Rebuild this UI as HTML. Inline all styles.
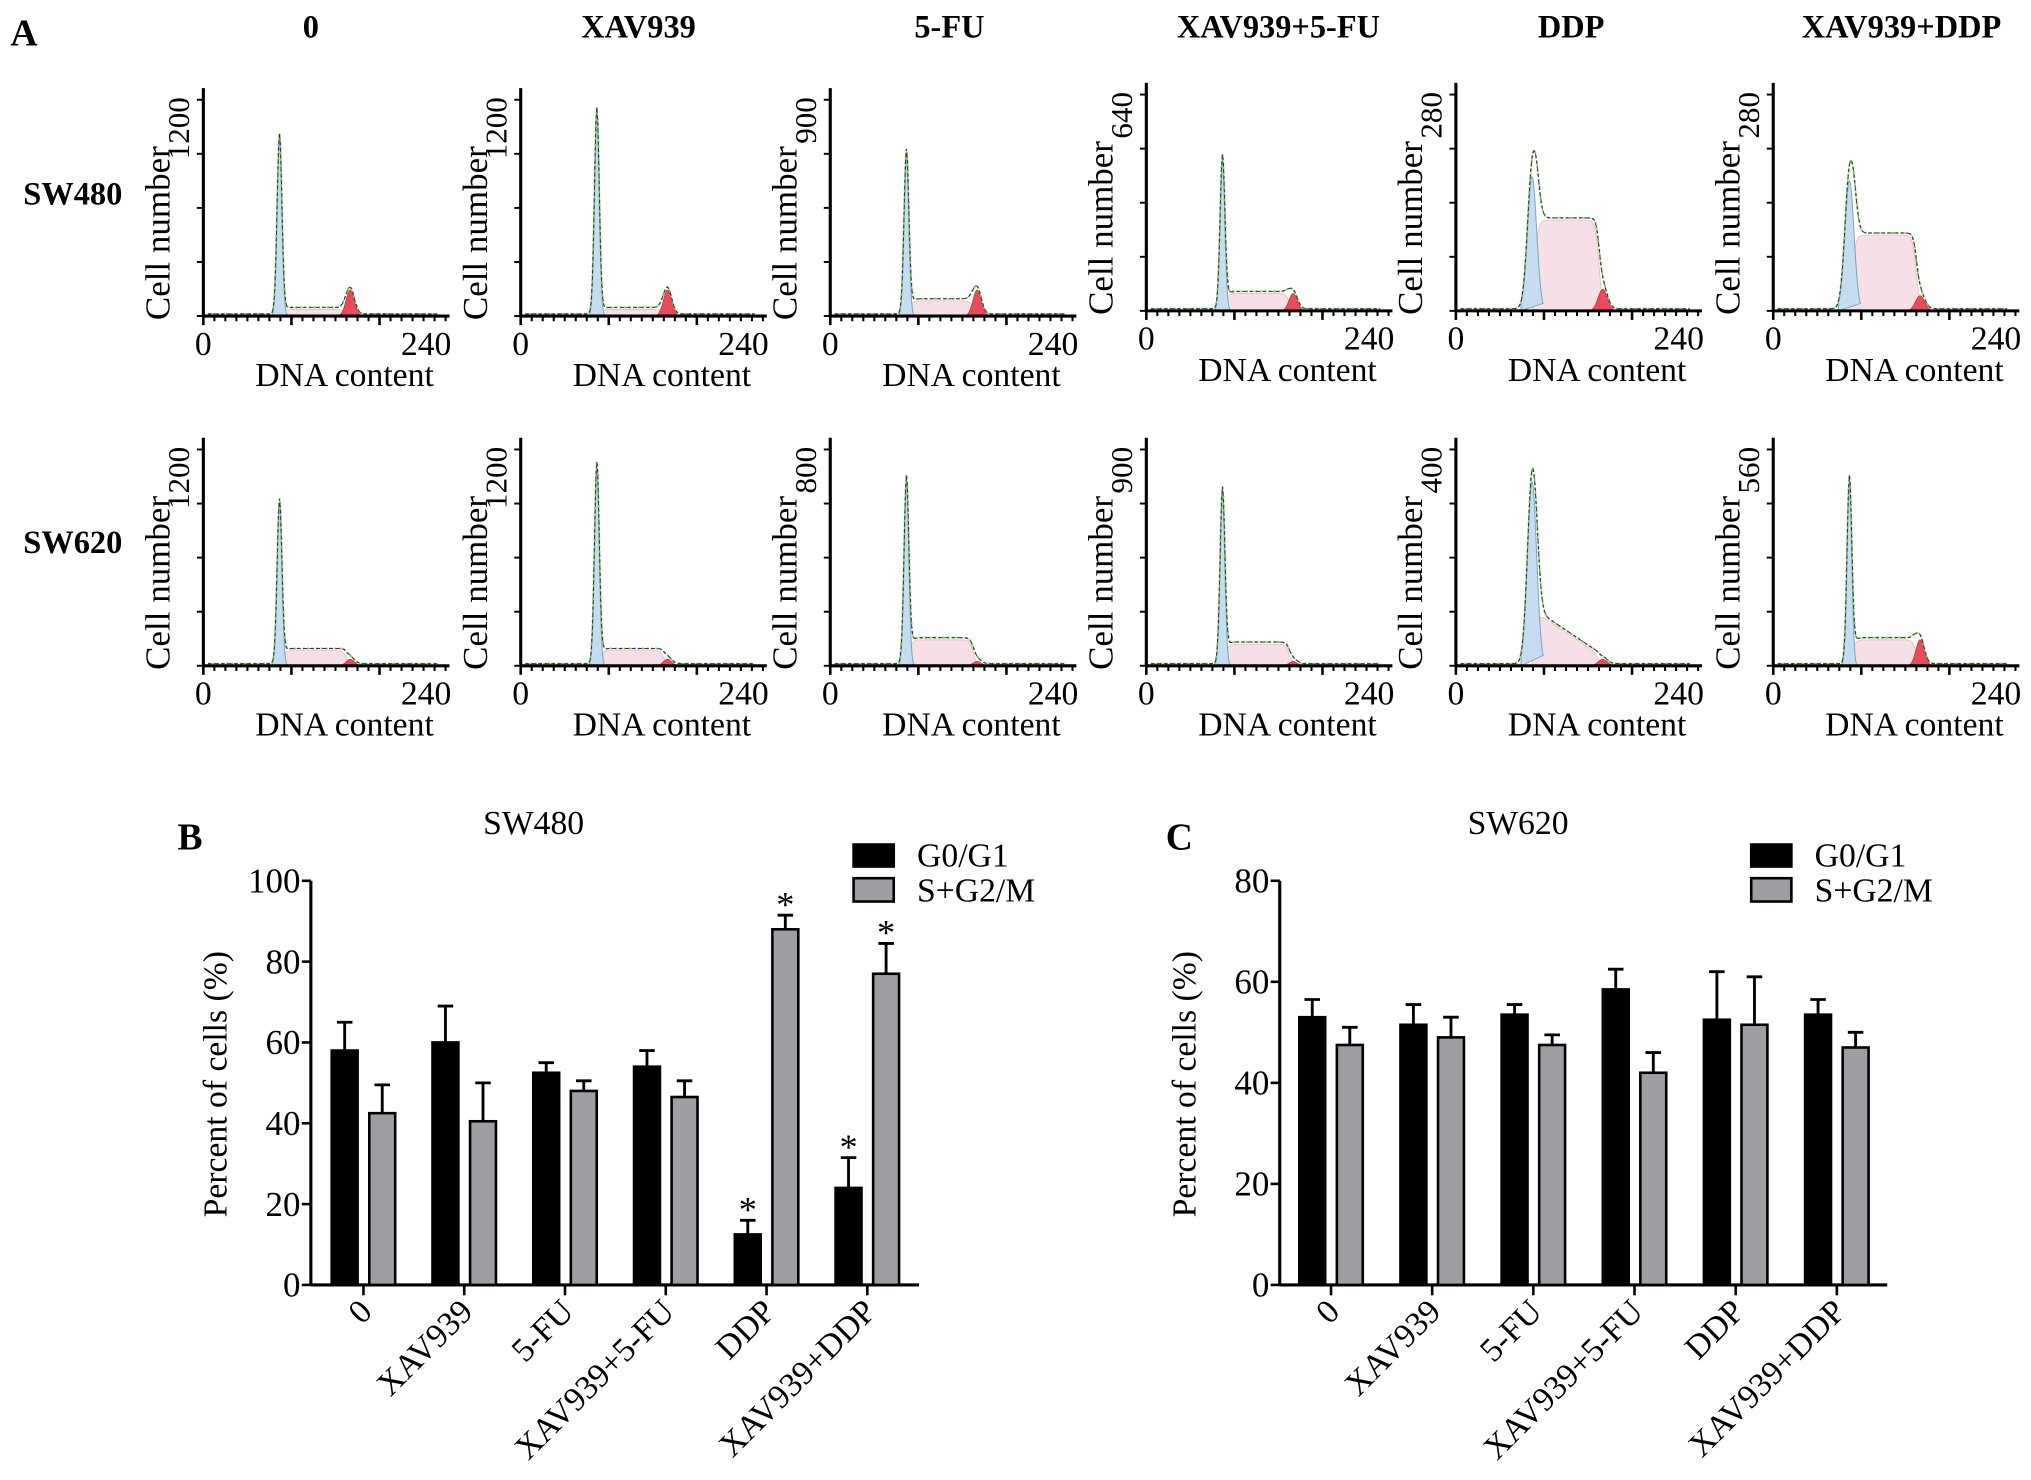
<!DOCTYPE html>
<html><head><meta charset="utf-8">
<style>
html,body{margin:0;padding:0;background:#fff;}
svg{display:block;font-family:"Liberation Serif",serif;}
</style></head>
<body>
<svg id="fig" width="2031" height="1480" viewBox="0 0 1568 1142.6" preserveAspectRatio="none" xmlns="http://www.w3.org/2000/svg">
<rect width="1568" height="1142.6" fill="#fff"/>
<text x="8" y="35" font-size="29" font-weight="bold">A</text>
<text x="18" y="158" font-size="25" font-weight="bold">SW480</text>
<text x="18" y="427" font-size="25" font-weight="bold">SW620</text>
<g id="hist"></g>
<g id="barB"></g>
<g id="barC"></g>
</svg>
<script>
const NS="http://www.w3.org/2000/svg";
function mk(parent,tag,attrs,text){const e=document.createElementNS(NS,tag);for(const k in attrs)e.setAttribute(k,attrs[k]);if(text!==undefined)e.textContent=text;parent.appendChild(e);return e;}

// ---------- Panel A data ----------
const treatments=["0","XAV939","5-FU","XAV939+5-FU","DDP","XAV939+DDP"];
const headerX=[240,493,733,987,1213,1468];
const axisLeft=[157,402,641,885,1124,1369];
const row1Max=[1200,1200,900,640,280,280];
const row2Max=[1200,1200,800,900,400,560];
const row1G1=[0.83,0.95,0.75,0.7,0.62,0.6];
const row1S=[0.03,0.03,0.07,0.08,0.42,0.35];
const row1G2=[0.12,0.12,0.12,0.08,0.1,0.07];
const row2G1=[0.75,0.92,0.85,0.8,0.85,0.85];
const row2S=[0.07,0.07,0.12,0.1,0.2,0.12];
const row2G2=[0.03,0.03,0.02,0.02,0.03,0.12];
const rowBase=[244,514];

const hist=document.getElementById('hist');
treatments.forEach((t,i)=>{
  const h=mk(hist,'text',{x:headerX[i],y:29,'font-size':25,'font-weight':'bold','text-anchor':'middle'},t);
  
  
});
function gauss(x,m,s){return Math.exp(-0.5*((x-m)/s)**2);}
function drawHist(r,c,maxv,g1,sl,g2){
  const g=mk(hist,'g',{});
  
  
  const x0=axisLeft[c], yb=rowBase[r]-(c>=3&&r===0?4:0), H=167;
  const sx=v=>x0+v*170/240, sy=f=>yb-f*H;
  const broad=sl>0.15;
  const s1=broad?5:2.6, s2=broad?5:4.5;
  const G1m=83,G2m=160;
  const sFun=x=>{const a=1/(1+Math.exp(-(x-G1m-3)/2)),b=1/(1+Math.exp((x-G2m+4)/2));return sl*a*b*(broad&&r===1?Math.max(0.2,1.3-(x-G1m)/70):1);};
  const pts=[];for(let x=5;x<=255;x+=1){const y=g1*gauss(x,G1m,s1)+sFun(x)+g2*gauss(x,G2m,s2)+0.01;pts.push([x,y]);}
  let d='M'+sx(G1m)+','+yb;for(let x=G1m;x<=G2m+8;x++)d+=' L'+sx(x)+','+sy(sFun(x));d+=' L'+sx(G2m+8)+','+yb+'Z';
  mk(g,'path',{d:d,fill:'#f7dfe7',stroke:'#e8b8c8','stroke-width':0.6});
  d='M'+sx(G1m-12)+','+yb;for(let x=G1m-12;x<=G1m+12;x+=0.5)d+=' L'+sx(x)+','+sy(g1*gauss(x,G1m,s1));d+='Z';
  mk(g,'path',{d:d,fill:'#c6dcf0',stroke:'#7aa6cc','stroke-width':0.8});
  d='M'+sx(G2m-14)+','+yb;for(let x=G2m-14;x<=G2m+14;x+=0.5)d+=' L'+sx(x)+','+sy(g2*gauss(x,G2m,s2));d+='Z';
  mk(g,'path',{d:d,fill:'#e84a5f',stroke:'#c33','stroke-width':0.6});
  d='';pts.forEach((p,k)=>{d+=(k?' L':'M')+sx(p[0])+','+sy(p[1]);});
  mk(g,'path',{d:d,fill:'none',stroke:'#7fc850','stroke-width':1.4,'stroke-dasharray':'2 1.5'});
  mk(g,'path',{d:d,fill:'none',stroke:'#334','stroke-width':0.8,'stroke-dasharray':'3 2'});
  mk(g,'line',{x1:x0,y1:yb-176,x2:x0,y2:yb,stroke:'#000','stroke-width':2.4});
  mk(g,'line',{x1:x0,y1:yb,x2:x0+190,y2:yb,stroke:'#000','stroke-width':2.4});
  for(let k=0;k<=4;k++)mk(g,'line',{x1:x0-5,y1:yb-k*H/4,x2:x0,y2:yb-k*H/4,stroke:'#000','stroke-width':1.5});
  for(let k=0;k<=22;k++){const big=k%8===0;mk(g,'line',{x1:x0+k*8.5,y1:yb,x2:x0+k*8.5,y2:yb+(big?7:4),stroke:'#000','stroke-width':big?2:1.6});}
  const mx=x0-11, my=yb-H-2;
  mk(g,'text',{x:mx,y:my,'font-size':24,transform:'rotate(-90 '+mx+' '+my+')','text-anchor':'end'},String(maxv));
  const cx=x0-26, cy=yb-64;
  mk(g,'text',{x:cx,y:cy,'font-size':27,transform:'rotate(-90 '+cx+' '+cy+')','text-anchor':'middle'},'Cell number');
  mk(g,'text',{x:x0,y:yb+30,'font-size':26,'text-anchor':'middle'},'0');
  mk(g,'text',{x:x0+172,y:yb+30,'font-size':26,'text-anchor':'middle'},'240');
  mk(g,'text',{x:x0+109,y:yb+54,'font-size':26,'text-anchor':'middle'},'DNA content');
}
for(let c=0;c<6;c++){drawHist(0,c,row1Max[c],row1G1[c],row1S[c],row1G2[c]);drawHist(1,c,row2Max[c],row2G1[c],row2S[c],row2G2[c]);}

// ---------- Bar chart data ----------
const categories=["0","XAV939","5-FU","XAV939+5-FU","DDP","XAV939+DDP"];
const sw480G1=[58,60,52.5,54,12.5,24];
const sw480G1Err=[7,9,2.5,4,3.5,7.5];
const sw480S=[42.5,40.5,48,46.5,88,77];
const sw480SErr=[7,9.5,2.5,4,3.5,7.5];
const sw480Star=[false,false,false,false,true,true];
const sw620G1=[53,51.5,53.5,58.5,52.5,53.5];
const sw620G1Err=[3.5,4,2,4,9.5,3];
const sw620S=[47.5,49,47.5,42,51.5,47];
const sw620SErr=[3.5,4,2,4,9.5,3];
const sw480Ticks=[0,20,40,60,80,100];
const sw620Ticks=[0,20,40,60,80];

function barChart(gid,cfg){
  const g=document.getElementById(gid);
  const yv=v=>cfg.y0-(v/cfg.max)*(cfg.y0-cfg.yTop);
  const cx=i=>cfg.first+i*cfg.step;
  const pre=cfg.prefix;
  const l=mk(g,'text',{x:cfg.letterX,y:656,'font-size':29,'font-weight':'bold'},cfg.letter);
  
  
  const t=mk(g,'text',{x:cfg.titleX,y:644,'font-size':26,'text-anchor':'middle'},cfg.title);
  
  
  const ya=mk(g,'line',{x1:cfg.ax,y1:cfg.yTop,x2:cfg.ax,y2:cfg.y0,stroke:'#000','stroke-width':2.4});
  
  
  const xa=mk(g,'line',{x1:cfg.ax,y1:cfg.y0,x2:cfg.axEnd,y2:cfg.y0,stroke:'#000','stroke-width':2.4});
  
  
  cfg.ticks.forEach(v=>{
    mk(g,'line',{x1:cfg.ax-7,y1:yv(v),x2:cfg.ax,y2:yv(v),stroke:'#000','stroke-width':2});
    const tl=mk(g,'text',{x:cfg.ax-8,y:yv(v)+9,'font-size':27,'text-anchor':'end'},String(v));
    
    
  });
  const tx=cfg.ax-65, ty=cfg.y0-155;
  const yt=mk(g,'text',{x:tx,y:ty,'font-size':26,'text-anchor':'middle',transform:'rotate(-90 '+tx+' '+ty+')'},'Percent of cells (%)');
  
  
  const bw=20;
  categories.forEach((c,i)=>{
    const x=cx(i);
    mk(g,'line',{x1:x,y1:cfg.y0,x2:x,y2:cfg.y0+8,stroke:'#000','stroke-width':2});
    const cl=mk(g,'text',{x:x+8,y:cfg.y0+22,'font-size':26,'text-anchor':'end',transform:'rotate(-45 '+(x+8)+' '+(cfg.y0+22)+')'},c);
    
    
    [[cfg.g1,cfg.g1e,'#000',-14.5,'g0g1'],[cfg.s,cfg.se,'#9d9ea2',14.5,'s-g2m']].forEach(([vals,errs,col,off,nm])=>{
      const bx=x+off-bw/2, top=yv(vals[i]), et=yv(vals[i]+errs[i]), mx=x+off;
      const eb=mk(g,'path',{d:'M'+mx+','+top+' L'+mx+','+et+' M'+(mx-6)+','+et+' L'+(mx+6)+','+et,stroke:'#000','stroke-width':2.2,fill:'none'});
      
      
      const b=mk(g,'rect',{x:bx,y:top,width:bw,height:cfg.y0-top,fill:col,stroke:'#000','stroke-width':2});
      
      
      if(cfg.star&&cfg.star[i]){
        const st=mk(g,'text',{x:mx,y:et+1,'font-size':28,'text-anchor':'middle'},'*');
        
        
      }
    });
  });
  const lg=mk(g,'g',{});
  
  
  mk(lg,'rect',{x:cfg.legX,y:651,width:33,height:19,fill:'#000'});
  mk(lg,'rect',{x:cfg.legX+1,y:678,width:31,height:18,fill:'#9d9ea2',stroke:'#000','stroke-width':2});
  mk(lg,'text',{x:cfg.legX+50,y:669,'font-size':26},'G0/G1');
  mk(lg,'text',{x:cfg.legX+50,y:696,'font-size':26},'S+G2/M');
}
barChart('barB',{prefix:'sw480',letter:'B',letterX:137,title:'SW480',titleX:412,ax:240,axEnd:709.5,y0:992,yTop:680,max:100,ticks:sw480Ticks,first:280.6,step:77.8,g1:sw480G1,g1e:sw480G1Err,s:sw480S,se:sw480SErr,star:sw480Star,legX:658});
barChart('barC',{prefix:'sw620',letter:'C',letterX:900,title:'SW620',titleX:1172,ax:988,axEnd:1457,y0:992,yTop:680,max:80,ticks:sw620Ticks,first:1027.6,step:78.1,g1:sw620G1,g1e:sw620G1Err,s:sw620S,se:sw620SErr,star:null,legX:1351});
</script>
</body></html>
